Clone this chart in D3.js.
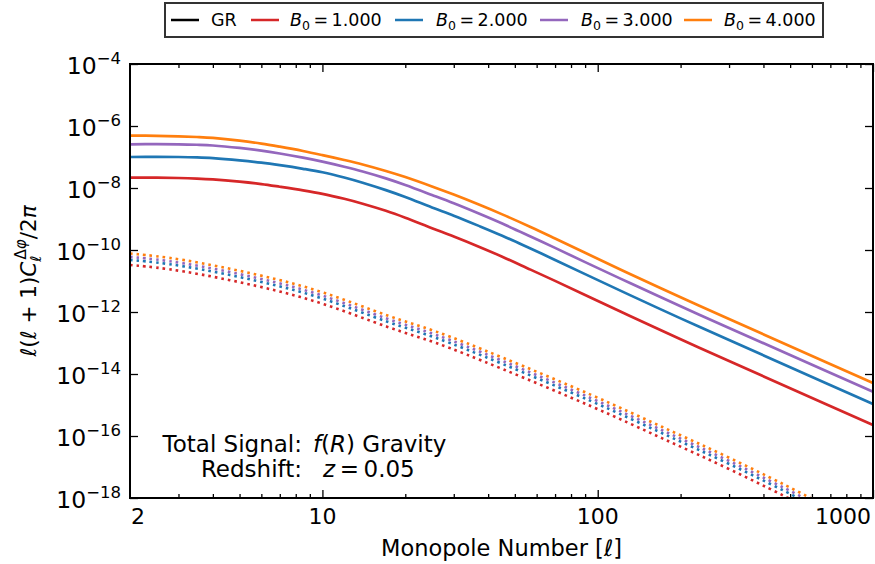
<!DOCTYPE html>
<html>
<head>
<meta charset="utf-8">
<script src="https://cdn.jsdelivr.net/npm/d3@7"></script>
<style>
  html, body { margin: 0; padding: 0; background: #fff; }
  svg { display: block; font-family: "DejaVu Sans", sans-serif; }
</style>
</head>
<body>
<svg id="chart" width="875" height="564"></svg>
<script>
// ---------------- data ----------------
const seriesNames = ["GR", "B0 = 1.000", "B0 = 2.000", "B0 = 3.000", "B0 = 4.000"];
const seriesColors = ["#000000", "#d62728", "#1f77b4", "#9467bd", "#ff7f0e"];

// Solid lines: total signal
const ellSolid = [2, 2.5, 3, 3.5, 4, 5, 6, 7, 8.5, 10, 12, 14, 17, 20, 25, 30, 37, 45, 57, 70, 90, 131, 200, 300, 500, 1000];
const solidB1 = [2.15e-8, 2.15e-8, 2.10e-8, 2.01e-8, 1.89e-8, 1.60e-8, 1.34e-8, 1.10e-8, 8.42e-9, 6.49e-9, 4.48e-9, 3.12e-9, 1.84e-9, 1.10e-9, 5.06e-10, 2.72e-10, 1.28e-10, 6.09e-11, 2.33e-11, 1.01e-11, 3.55e-12, 7.46e-13, 1.32e-13, 2.62e-14, 3.49e-15, 2.27e-16];
const solidB2 = [1.0e-7, 1.01e-7, 1.0e-7, 9.71e-8, 9.21e-8, 7.82e-8, 6.56e-8, 5.44e-8, 4.16e-8, 3.21e-8, 2.18e-8, 1.48e-8, 8.54e-9, 5.13e-9, 2.35e-9, 1.28e-9, 6.0e-10, 2.88e-10, 1.11e-10, 4.79e-11, 1.67e-11, 3.50e-12, 6.22e-13, 1.25e-13, 1.66e-14, 1.08e-15];
const solidB3 = [2.57e-7, 2.6e-7, 2.57e-7, 2.48e-7, 2.35e-7, 1.96e-7, 1.61e-7, 1.30e-7, 9.52e-8, 7.10e-8, 4.86e-8, 3.41e-8, 2.04e-8, 1.25e-8, 5.96e-9, 3.21e-9, 1.50e-9, 7.12e-10, 2.73e-10, 1.17e-10, 4.07e-11, 8.60e-12, 1.53e-12, 3.07e-13, 4.10e-14, 2.69e-15];
const solidB4 = [4.865e-7, 4.83e-7, 4.66e-7, 4.42e-7, 4.13e-7, 3.38e-7, 2.71e-7, 2.15e-7, 1.56e-7, 1.15e-7, 8.0e-8, 5.73e-8, 3.53e-8, 2.25e-8, 1.12e-8, 6.12e-9, 2.92e-9, 1.41e-9, 5.52e-10, 2.35e-10, 8.13e-11, 1.69e-11, 2.98e-12, 5.94e-13, 7.89e-14, 5.13e-15];

// Dotted lines
const ellDotted = [2, 3, 6, 10, 18, 25, 43, 100, 170, 300, 590, 700];
const dotB1 = [3.3e-11, 2.35e-11, 6.7e-12, 2.05e-12, 2.7e-13, 1.2e-13, 1.75e-14, 7.7e-16, 8.6e-17, 9.0e-18, 4.5e-19, 1.9e-19];
const dotB2 = [4.8e-11, 3.45e-11, 9.8e-12, 3.0e-12, 3.95e-13, 1.75e-13, 2.55e-14, 1.13e-15, 1.25e-16, 1.32e-17, 6.6e-19, 2.8e-19];
const dotB3 = [6.0e-11, 4.3e-11, 1.22e-11, 3.75e-12, 4.9e-13, 2.2e-13, 3.2e-14, 1.4e-15, 1.56e-16, 1.65e-17, 8.2e-19, 3.5e-19];
const dotB4 = [7.7e-11, 5.5e-11, 1.56e-11, 4.8e-12, 6.3e-13, 2.8e-13, 4.1e-14, 1.8e-15, 2.0e-16, 2.1e-17, 1.05e-18, 4.5e-19];

// Ticks
const xMajorTicks = [10, 100, 1000];
const xTickLabels = [2, 10, 100, 1000];
const xMinorTicks = [3, 4, 5, 6, 7, 8, 9, 20, 30, 40, 50, 60, 70, 80, 90, 200, 300, 400, 500, 600, 700, 800, 900];
const yTickExps = [-4, -6, -8, -10, -12, -14, -16, -18];

// ---------------- drawing ----------------
const svg = d3.select("#chart");
const L = 130, R = 873, T = 64, B = 498;
const x = d3.scaleLog().domain([2, 1000]).range([L, R]);
const y = d3.scaleLog().domain([1e-18, 1e-4]).range([B, T]);

svg.append("defs").append("clipPath").attr("id", "plotclip")
  .append("rect").attr("x", L).attr("y", T).attr("width", R - L).attr("height", B - T);

const line = d3.line().x(d => x(d[0])).y(d => y(d[1])).curve(d3.curveCatmullRom.alpha(0.5));
const dline = d3.line().x(d => x(d[0])).y(d => y(d[1])).curve(d3.curveBasis);
const plot = svg.append("g").attr("clip-path", "url(#plotclip)");

const dotted = [dotB1, dotB2, dotB3, dotB4];
dotted.forEach((vals, i) => {
  plot.append("path")
    .attr("d", dline(ellDotted.map((l, k) => [l, vals[k]])))
    .attr("fill", "none").attr("stroke", seriesColors[i + 1])
    .attr("stroke-width", 2.6).attr("stroke-dasharray", "2.6,4.0");
});
const solid = [solidB1, solidB2, solidB3, solidB4];
solid.forEach((vals, i) => {
  plot.append("path")
    .attr("d", line(ellSolid.map((l, k) => [l, vals[k]])))
    .attr("fill", "none").attr("stroke", seriesColors[i + 1])
    .attr("stroke-width", 2.7);
});

// axes (ticks inward)
function styleAxis(g) {
  g.select(".domain").remove();
  g.selectAll(".tick line").attr("stroke", "#000").attr("stroke-width", 1.3);
}
const fmtNone = () => "";
svg.append("g").attr("transform", `translate(0,${B})`)
  .call(d3.axisBottom(x).tickValues(xMajorTicks).tickSize(-8).tickFormat(fmtNone)).call(styleAxis);
svg.append("g").attr("transform", `translate(0,${B})`)
  .call(d3.axisBottom(x).tickValues(xMinorTicks).tickSize(-4).tickFormat(fmtNone)).call(styleAxis);
svg.append("g").attr("transform", `translate(0,${T})`)
  .call(d3.axisTop(x).tickValues(xMajorTicks).tickSize(-8).tickFormat(fmtNone)).call(styleAxis);
svg.append("g").attr("transform", `translate(0,${T})`)
  .call(d3.axisTop(x).tickValues(xMinorTicks).tickSize(-4).tickFormat(fmtNone)).call(styleAxis);
const yTickVals = yTickExps.map(e => Math.pow(10, e));
svg.append("g").attr("transform", `translate(${L},0)`)
  .call(d3.axisLeft(y).tickValues(yTickVals).tickSize(-8).tickFormat(fmtNone)).call(styleAxis);
svg.append("g").attr("transform", `translate(${R},0)`)
  .call(d3.axisRight(y).tickValues(yTickVals).tickSize(-8).tickFormat(fmtNone)).call(styleAxis);

// frame
svg.append("rect").attr("x", L).attr("y", T).attr("width", R - L).attr("height", B - T)
  .attr("fill", "none").attr("stroke", "#000").attr("stroke-width", 2);

// x tick labels
xTickLabels.forEach((v, i) => {
  const anchor = i === 0 ? "start" : (i === xTickLabels.length - 1 ? "end" : "middle");
  const dx = i === 0 ? 1 : (i === xTickLabels.length - 1 ? -2 : 0);
  svg.append("text").attr("x", x(v) + dx).attr("y", B + 26)
    .attr("text-anchor", anchor).attr("font-size", 22).text(v);
});

// y tick labels
yTickExps.forEach(e => {
  const t = svg.append("text").attr("x", 121).attr("y", y(Math.pow(10, e)) + 9.5)
    .attr("text-anchor", "end").attr("font-size", 23.5);
  t.append("tspan").text("10");
  t.append("tspan").attr("font-size", 16.5).attr("dy", -10).text("\u2212" + Math.abs(e));
});

// axis labels
const xl = svg.append("text").attr("x", (L + R) / 2).attr("y", 556)
  .attr("text-anchor", "middle").attr("font-size", 22.5);
xl.append("tspan").text("Monopole Number [");
xl.append("tspan").attr("font-style", "italic").text("\u2113");
xl.append("tspan").text("]");

const yl = svg.append("text").attr("transform", `translate(36,${(T + B) / 2}) rotate(-90)`)
  .attr("text-anchor", "middle").attr("font-size", 21.5);
yl.append("tspan").attr("font-style", "italic").text("\u2113");
yl.append("tspan").text("(");
yl.append("tspan").attr("font-style", "italic").text("\u2113");
yl.append("tspan").text(" + 1)");
yl.append("tspan").attr("font-style", "italic").text("C");
yl.append("tspan").attr("font-style", "italic").attr("font-size", 15).attr("dy", 5).text("\u2113");
yl.append("tspan").attr("font-size", 15).attr("dx", -4).attr("dy", -15).text("\u0394");
yl.append("tspan").attr("font-style", "italic").attr("font-size", 15).text("\u03c6");
yl.append("tspan").attr("dy", 10).text("/2");
yl.append("tspan").attr("font-style", "italic").text("\u03c0");

// annotation
const annFs = 23;
svg.append("text").attr("x", 302).attr("y", 452).attr("text-anchor", "end").attr("font-size", annFs).text("Total Signal:");
svg.append("text").attr("x", 302).attr("y", 477).attr("text-anchor", "end").attr("font-size", annFs).text("Redshift:");
const a1 = svg.append("text").attr("x", 313).attr("y", 452).attr("font-size", annFs);
a1.append("tspan").attr("font-style", "italic").text("f");
a1.append("tspan").text("(");
a1.append("tspan").attr("font-style", "italic").text("R");
a1.append("tspan").text(") Gravity");
const a2 = svg.append("text").attr("x", 323).attr("y", 477).attr("font-size", annFs);
a2.append("tspan").attr("font-style", "italic").text("z");
a2.append("tspan").text("\u2009=\u20090.05");

// legend
const leg = svg.append("g");
leg.append("rect").attr("x", 165).attr("y", 3).attr("width", 658).attr("height", 34)
  .attr("fill", "#fff").attr("stroke", "#333").attr("stroke-width", 2);
const legLineX = [171, 251, 395, 540, 684];
const legTextX = [211, 290, 436, 581, 724];
seriesNames.forEach((name, i) => {
  leg.append("line").attr("x1", legLineX[i]).attr("x2", legLineX[i] + 28)
    .attr("y1", 20).attr("y2", 20).attr("stroke", seriesColors[i]).attr("stroke-width", 2.5);
  const t = leg.append("text").attr("x", legTextX[i]).attr("y", 26).attr("font-size", 17.5);
  if (i === 0) { t.text(name); }
  else {
    t.append("tspan").attr("font-style", "italic").text("B");
    t.append("tspan").attr("font-size", 12.5).attr("dy", 4).text("0");
    t.append("tspan").attr("dy", -4).text("\u2009=\u2009" + name.split("= ")[1]);
  }
});
</script>
</body>
</html>
